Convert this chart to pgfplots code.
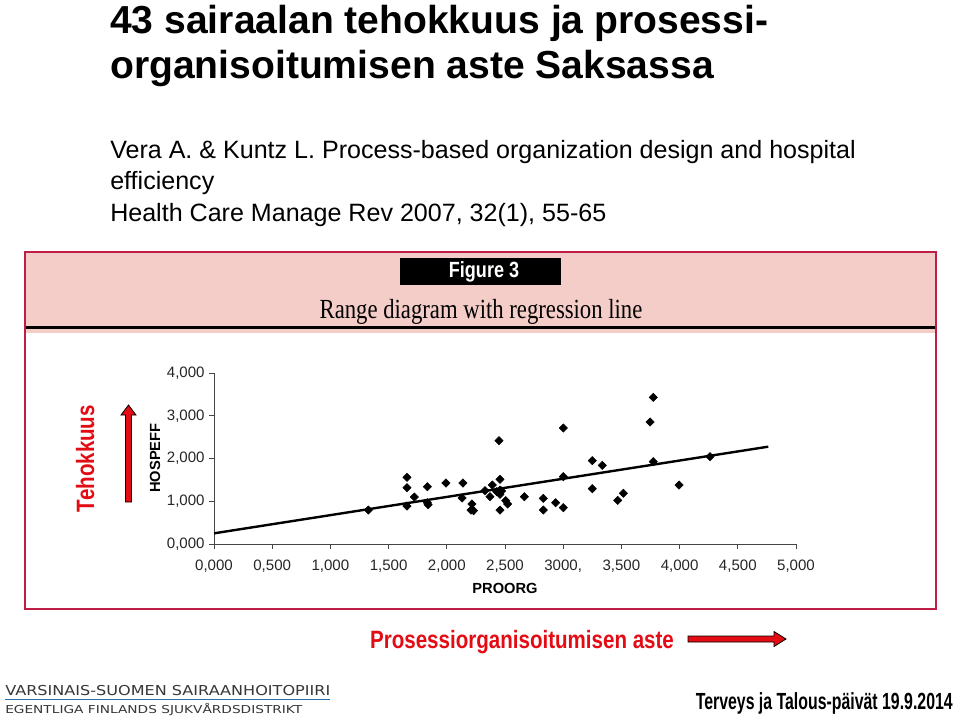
\documentclass[border=0pt]{standalone}
\usepackage{fontspec}
\setmainfont{Liberation Sans}
\newfontfamily\seriffont{Liberation Serif}
\newfontfamily\narrowfont[FakeStretch=0.82]{Liberation Sans}
\newfontfamily\narrowerfont[FakeStretch=0.68]{Liberation Sans}
\newfontfamily\logofont[FakeStretch=0.85]{DejaVu Sans}
\usepackage{pgfplots}
\pgfplotsset{compat=1.18}
\definecolor{panelpink}{RGB}{245,205,200}
\definecolor{panelborder}{RGB}{190,30,70}
\definecolor{slidered}{RGB}{228,12,20}
\definecolor{logoblue}{RGB}{40,110,170}
\definecolor{axisgray}{RGB}{70,70,70}
\definecolor{logogray}{RGB}{55,55,55}
\begin{document}
\begin{tikzpicture}
\begin{scope}[x=0.75pt,y=-0.75pt]
\useasboundingbox (0,0) rectangle (959,722);
\fill[white] (0,0) rectangle (959,722);
% title
\node[anchor=base west,inner sep=0] at (110,33) {\fontsize{29.3}{34}\selectfont\bfseries 43 sairaalan tehokkuus ja prosessi-};
\node[anchor=base west,inner sep=0] at (110,78) {\fontsize{29.3}{34}\selectfont\bfseries organisoitumisen aste Saksassa};
\node[anchor=base west,inner sep=0] at (110,158) {\fontsize{18.8}{22}\selectfont Vera A. \& Kuntz L. Process-based organization design and hospital};
\node[anchor=base west,inner sep=0] at (110,189) {\fontsize{18.8}{22}\selectfont efficiency};
\node[anchor=base west,inner sep=0] at (110,221) {\fontsize{18.8}{22}\selectfont Health Care Manage Rev 2007, 32(1), 55-65};
% panel
\fill[panelpink] (25,252) rectangle (936,333);
\fill[black] (25,325.5) rectangle (936,328.5);
\draw[panelborder,line width=1.8pt] (25,252) rectangle (936,609);
\fill[black] (400,258) rectangle (561,285);
\node[text=white,inner sep=0] at (484,272) {\narrowfont\fontsize{16.5}{16}\selectfont\bfseries Figure 3};
\node[inner sep=0,anchor=base] at (481,318) {\scalebox{0.92}[1.12]{\seriffont\fontsize{18.5}{18}\selectfont Range diagram with regression line}};
% side label and arrows
\node[rotate=90,text=slidered,inner sep=0,anchor=base] at (94,458.5) {\narrowfont\fontsize{18.8}{20}\selectfont\bfseries Tehokkuus};
\filldraw[fill=slidered,draw=black,line width=0.6pt] (125.5,502) -- (125.5,415) -- (121,415) -- (128.5,405) -- (136,415) -- (131.5,415) -- (131.5,502) -- cycle;
\node[text=slidered,inner sep=0,anchor=base] at (522,648) {\narrowfont\fontsize{18.8}{20}\selectfont\bfseries Prosessiorganisoitumisen aste};
\filldraw[fill=slidered,draw=black,line width=0.6pt] (688,636) -- (774,636) -- (774,631.5) -- (786,639) -- (774,646.5) -- (774,642) -- (688,642) -- cycle;
% footer
\node[anchor=base west,inner sep=0,text=logogray] at (5,695) {\resizebox{243.75pt}{7.6pt}{\logofont\fontsize{11}{11}\selectfont VARSINAIS-SUOMEN SAIRAANHOITOPIIRI}};
\draw[logoblue,line width=1pt] (5,699.5) -- (330,699.5);
\node[anchor=base west,inner sep=0,text=logogray] at (5,713.5) {\resizebox{222.75pt}{7.6pt}{\logofont\fontsize{11}{11}\selectfont EGENTLIGA FINLANDS SJUKVÅRDSDISTRIKT}};
\node[anchor=base east,inner sep=0] at (953,709) {\narrowerfont\fontsize{17.5}{18}\selectfont\bfseries Terveys ja Talous-päivät 19.9.2014};
\end{scope}
\begin{axis}[
  at={(160.5pt,-408pt)}, anchor=south west,
  scale only axis, width=436.5pt, height=128.25pt,
  xmin=0, xmax=5, ymin=0, ymax=4,
  axis x line*=bottom, axis y line*=left,
  axis line style={axisgray,line width=0.6pt},
  tick style={axisgray,line width=0.6pt},
  tick align=outside, major tick length=3.5pt,
  xtick={0,0.5,1,1.5,2,2.5,3,3.5,4,4.5,5},
  xticklabels={{0,000},{0,500},{1,000},{1,500},{2,000},{2,500},{3000,},{3,500},{4,000},{4,500},{5,000}},
  ytick={0,1,2,3,4},
  yticklabels={{0,000},{1,000},{2,000},{3,000},{4,000}},
  ticklabel style={font=\fontsize{11.3}{11}\selectfont, text=black!85},
  xticklabel style={yshift=-5pt},
  xlabel={\bfseries PROORG}, ylabel={\bfseries HOSPEFF},
  label style={font=\fontsize{11}{11}\selectfont},
  xlabel style={at={(axis description cs:0.5,-0.257)}, anchor=center},
  ylabel style={at={(axis description cs:-0.1014,0.503)}, anchor=center},
  clip=false,
]
\addplot[only marks, mark=diamond*, mark size=3.1pt, black, every mark/.append style={xscale=1.33}] coordinates {
(1.326,0.795) (1.658,1.560) (1.658,1.317) (1.721,1.099) (1.658,0.889)
(1.833,1.341) (1.833,0.966) (1.840,0.920) (1.993,1.427) (2.139,1.427)
(2.131,1.076) (2.216,0.936) (2.208,0.795) (2.230,0.780) (2.328,1.247)
(2.371,1.107) (2.391,1.380) (2.429,1.224) (2.448,2.417) (2.457,1.513)
(2.457,1.263) (2.457,1.162) (2.457,0.795) (2.470,1.240) (2.506,1.014) (2.523,0.936)
(2.666,1.107) (2.829,1.068) (2.829,0.795) (2.935,0.967) (3.001,2.713)
(3.001,1.575) (3.001,0.850) (3.250,1.950) (3.250,1.294) (3.336,1.840)
(3.468,1.021) (3.517,1.185) (3.746,2.854) (3.774,3.431) (3.774,1.926)
(3.995,1.380) (4.261,2.043)
};
\addplot[black, line width=1.8pt] coordinates {(0,0.25) (4.762,2.277)};
\end{axis}
\end{tikzpicture}
\end{document}
